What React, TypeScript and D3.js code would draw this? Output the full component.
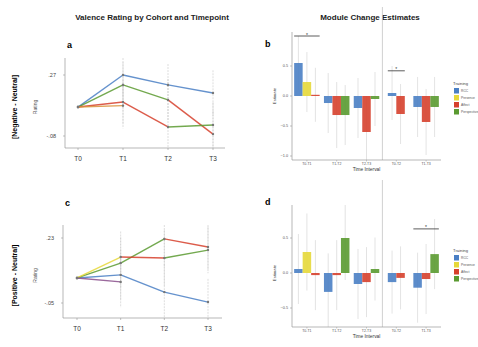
import React from "react";
import * as d3 from "d3";

// ---------- DATA ----------
const timepoints = ["T0", "T1", "T2", "T3"];

// Negative - Neutral (panel a)
const negValues = [
  [0.086, 0.27, 0.213, 0.167],
  [0.086, 0.213, 0.127, -0.069],
  [0.086, 0.115, -0.028, -0.017],
  [0.086, 0.094],
];
const negSegColors = [
  ["Blue", "Blue", "Blue"],
  ["Green", "Green", "Red"],
  ["Red", "Red", "Green"],
  ["Orange"],
];
const negErr = [0, 0.13, 0.12, 0.13];
const negTicks = [0.27, -0.08];
const negTickLabels = [".27", "-.08"];

// Positive - Neutral (panel c)
const posValues = [
  [0.058, 0.071, -0.003, -0.046],
  [0.058, 0.122, 0.226, 0.191],
  [0.058, 0.148, 0.144, 0.178],
  [0.058, 0.041],
];
const posSegColors = [
  ["Blue", "Blue", "Blue"],
  ["Green", "Green", "Red"],
  ["Yellow", "Red", "Green"],
  ["Purple"],
];
const posErr = [0, 0.11, 0.12, 0.1];
const posTicks = [0.23, -0.05];
const posTickLabels = [".23", "-.05"];

// Bar panels
const intervals = ["T0-T1", "T1-T2", "T2-T3", "T0-T2", "T1-T3"];
const trainings = ["RCC", "Presence", "Affect", "Perspective"];
const intervalTrainings = [
  ["RCC", "Presence", "Affect"],
  ["RCC", "Affect", "Perspective"],
  ["RCC", "Affect", "Perspective"],
  ["RCC", "Affect"],
  ["RCC", "Affect", "Perspective"],
];
const negEstimates = [
  [0.55, 0.233, 0.02],
  [-0.117, -0.317, -0.317],
  [-0.2, -0.6, -0.05],
  [0.05, -0.3],
  [-0.183, -0.433, -0.183],
];
const negEstErr = [
  [0.45, 0.5, 0.45],
  [0.5, 0.55, 0.5],
  [0.5, 0.6, 0.45],
  [0.45, 0.5],
  [0.5, 0.55, 0.5],
];
const posEstimates = [
  [0.057, 0.3, -0.03],
  [-0.27, -0.03, 0.5],
  [-0.157, -0.13, 0.057],
  [-0.13, -0.07],
  [-0.21, -0.086, 0.27],
];
const posEstErr = [
  [0.5, 0.55, 0.5],
  [0.55, 0.5, 0.6],
  [0.5, 0.5, 0.45],
  [0.45, 0.45],
  [0.5, 0.5, 0.5],
];
const negBarTicks = [0.5, 0, -0.5, -1.0];
const posBarTicks = [0.5, 0, -0.5];
// significance brackets: [interval index, value]
const negSigs = [[0, 1.0], [3, 0.42]];
const posSigs = [[4, 0.63]];

const colorMap: Record<string, string> = {
  Blue: "#4a7fc4",
  Yellow: "#e6d83a",
  Red: "#d6402c",
  Green: "#5a9a30",
  Orange: "#d9903a",
  Purple: "#8a4f8c",
};
const trainingColor: Record<string, string> = {
  RCC: "#4a7fc4",
  Presence: "#e6d83a",
  Affect: "#d6402c",
  Perspective: "#5a9a30",
};

const FONT = "'Liberation Sans', Arial, sans-serif";

type LineProps = {
  values: number[][];
  segColors: string[][];
  err: number[];
  ticks: number[];
  tickLabels: string[];
  domain: [number, number];
  yTop: number;
  yBot: number;
  xLeft: number;
  xRight: number;
  xFirst: number;
  xLast: number;
  letter: string;
  leftTitle: string;
  letterY: number;
};

function LinePanel(p: LineProps) {
  const x = d3.scalePoint<string>().domain(timepoints).range([p.xFirst, p.xLast]);
  const y = d3.scaleLinear().domain(p.domain).range([p.yBot, p.yTop]);
  const midY = (p.yTop + p.yBot) / 2 + 4;
  const segs: JSX.Element[] = [];
  p.values.forEach((vals, ci) => {
    for (let i = 0; i < vals.length - 1; i++) {
      segs.push(
        <line
          key={`s${ci}-${i}`}
          x1={x(timepoints[i])}
          x2={x(timepoints[i + 1])}
          y1={y(vals[i])}
          y2={y(vals[i + 1])}
          stroke={colorMap[p.segColors[ci][i]]}
          strokeWidth={1.4}
          strokeOpacity={0.85}
        />
      );
    }
  });
  const errs: JSX.Element[] = [];
  p.values.forEach((vals, ci) => {
    vals.forEach((v, i) => {
      if (p.err[i] > 0) {
        errs.push(
          <line
            key={`e${ci}-${i}`}
            x1={x(timepoints[i])}
            x2={x(timepoints[i])}
            y1={Math.max(p.yTop, y(v + p.err[i]))}
            y2={Math.min(p.yBot, y(v - p.err[i]))}
            stroke="#c8c8c8"
            strokeWidth={0.6}
            strokeDasharray="2,1"
          />
        );
      }
    });
  });
  const pts: JSX.Element[] = [];
  p.values.forEach((vals, ci) => {
    vals.forEach((v, i) => {
      pts.push(
        <circle key={`p${ci}-${i}`} cx={x(timepoints[i])} cy={y(v)} r={1.2} fill="#777" />
      );
    });
  });
  return (
    <g>
      <text x={p.xLeft + 2} y={p.letterY} fontSize={9} fontWeight="bold" fontFamily={FONT}>
        {p.letter}
      </text>
      <text
        transform={`translate(17,${midY}) rotate(-90)`}
        textAnchor="middle"
        fontSize={7}
        fontWeight="bold"
        fontFamily={FONT}
      >
        {p.leftTitle}
      </text>
      <text
        transform={`translate(37,${midY}) rotate(-90)`}
        textAnchor="middle"
        fontSize={5}
        fill="#555"
        fontFamily={FONT}
      >
        Rating
      </text>
      {errs}
      {segs}
      {pts}
      <line x1={p.xLeft} x2={p.xLeft} y1={p.yTop} y2={p.yBot} stroke="#999" strokeWidth={0.7} />
      <line x1={p.xLeft} x2={p.xRight} y1={p.yBot} y2={p.yBot} stroke="#999" strokeWidth={0.7} />
      {p.ticks.map((t, i) => (
        <g key={`t${i}`}>
          <line x1={p.xLeft - 2} x2={p.xLeft} y1={y(t)} y2={y(t)} stroke="#999" strokeWidth={0.6} />
          <text
            x={p.xLeft - 9}
            y={y(t) + 1.9}
            textAnchor="end"
            fontSize={5.5}
            fill="#444"
            fontFamily={FONT}
          >
            {p.tickLabels[i]}
          </text>
        </g>
      ))}
      {timepoints.map((t) => (
        <g key={t}>
          <line x1={x(t)} x2={x(t)} y1={p.yBot} y2={p.yBot + 2} stroke="#999" strokeWidth={0.6} />
          <text
            x={x(t)}
            y={p.yBot + 13}
            textAnchor="middle"
            fontSize={6.5}
            fill="#333"
            fontFamily={FONT}
          >
            {t}
          </text>
        </g>
      ))}
    </g>
  );
}

type BarProps = {
  est: number[][];
  estErr: number[][];
  ticks: number[];
  domain: [number, number];
  yTop: number;
  yBot: number;
  letter: string;
  letterY: number;
  sigs: number[][];
  legendY: number;
};

function BarPanel(p: BarProps) {
  const xLeft = 292;
  const xRight = 441;
  const x = d3.scaleBand<string>().domain(intervals).range([xLeft, xRight]);
  const y = d3.scaleLinear().domain(p.domain).range([p.yBot, p.yTop]);
  const barW = 8.5;
  const sepX = (x(intervals[2])! + x.bandwidth() + x(intervals[3])!) / 2 + 1;
  const bars: JSX.Element[] = [];
  const errs: JSX.Element[] = [];
  const groupExtent: [number, number][] = [];
  intervals.forEach((iv, gi) => {
    const names = intervalTrainings[gi];
    const inner = d3
      .scaleBand<string>()
      .domain(names)
      .range([
        x(iv)! + x.bandwidth() / 2 - (barW * names.length) / 2,
        x(iv)! + x.bandwidth() / 2 + (barW * names.length) / 2,
      ]);
    groupExtent.push([inner.range()[0], inner.range()[1]]);
    names.forEach((n, bi) => {
      const v = p.est[gi][bi];
      const e = p.estErr[gi][bi];
      const bx = inner(n)!;
      errs.push(
        <line
          key={`e${gi}-${bi}`}
          x1={bx + barW / 2}
          x2={bx + barW / 2}
          y1={Math.max(p.yTop, y(v + e))}
          y2={Math.min(p.yBot, y(v - e))}
          stroke="#d0d0d0"
          strokeWidth={0.6}
        />
      );
      bars.push(
        <rect
          key={`b${gi}-${bi}`}
          x={bx}
          width={barW}
          y={Math.min(y(0), y(v))}
          height={Math.max(1.2, Math.abs(y(v) - y(0)))}
          fill={trainingColor[n]}
          fillOpacity={0.9}
        />
      );
    });
  });
  return (
    <g>
      <text x={265} y={p.letterY} fontSize={9} fontWeight="bold" fontFamily={FONT}>
        {p.letter}
      </text>
      <line x1={sepX} x2={sepX} y1={p.yTop - 25} y2={p.yBot} stroke="#bbb" strokeWidth={0.7} />
      {errs}
      {bars}
      {p.sigs.map(([gi, v], i) => {
        const [a, b] = groupExtent[gi];
        return (
          <g key={`sig${i}`}>
            <line x1={a} x2={b} y1={y(v)} y2={y(v)} stroke="#333" strokeWidth={0.8} />
            <text
              x={(a + b) / 2}
              y={y(v) + 0.5}
              textAnchor="middle"
              fontSize={5}
              fill="#333"
              fontFamily={FONT}
            >
              *
            </text>
          </g>
        );
      })}
      <line x1={xLeft} x2={xLeft} y1={p.yTop} y2={p.yBot} stroke="#999" strokeWidth={0.7} />
      <line x1={xLeft} x2={xRight} y1={p.yBot} y2={p.yBot} stroke="#999" strokeWidth={0.7} />
      {p.ticks.map((t) => (
        <g key={`t${t}`}>
          <line x1={xLeft - 2} x2={xLeft} y1={y(t)} y2={y(t)} stroke="#999" strokeWidth={0.6} />
          <text
            x={xLeft - 4}
            y={y(t) + 1.3}
            textAnchor="end"
            fontSize={3.8}
            fill="#555"
            fontFamily={FONT}
          >
            {t === 0 ? "0.0" : d3.format(".1f")(t)}
          </text>
        </g>
      ))}
      <text
        transform={`translate(276,${y(0)}) rotate(-90)`}
        textAnchor="middle"
        fontSize={4.2}
        fill="#444"
        fontFamily={FONT}
      >
        Estimate
      </text>
      {intervals.map((iv) => (
        <g key={iv}>
          <line
            x1={x(iv)! + x.bandwidth() / 2}
            x2={x(iv)! + x.bandwidth() / 2}
            y1={p.yBot}
            y2={p.yBot + 1.5}
            stroke="#999"
            strokeWidth={0.5}
          />
          <text
            x={x(iv)! + x.bandwidth() / 2}
            y={p.yBot + 5}
            textAnchor="middle"
            fontSize={3.5}
            fill="#555"
            fontFamily={FONT}
          >
            {iv}
          </text>
        </g>
      ))}
      <text
        x={(xLeft + xRight) / 2}
        y={p.yBot + 11}
        textAnchor="middle"
        fontSize={4.8}
        fill="#333"
        fontFamily={FONT}
      >
        Time Interval
      </text>
      <text x={453} y={p.legendY} fontSize={4.2} fill="#444" fontFamily={FONT}>
        Training
      </text>
      {trainings.map((t, i) => (
        <g key={t}>
          <rect
            x={454}
            y={p.legendY + 3 + i * 7}
            width={5}
            height={5.5}
            fill={trainingColor[t]}
          />
          <text
            x={461}
            y={p.legendY + 7.3 + i * 7}
            fontSize={3.3}
            fill="#555"
            fontFamily={FONT}
          >
            {t}
          </text>
        </g>
      ))}
    </g>
  );
}

export default function App() {
  // panel a scale: .27 at y=75, -.08 at y=136
  const aPx = 0.35 / 61;
  const aDomain: [number, number] = [-0.08 - 12 * aPx, 0.27 + 17 * aPx];
  const cPx = 0.28 / 65;
  const cDomain: [number, number] = [-0.05 - 15 * cPx, 0.23 + 13 * cPx];
  return (
    <svg
      width={478}
      height={347}
      style={{ position: "absolute", left: 0, top: 0, background: "#fff" }}
    >
      <text
        x={152}
        y={20}
        textAnchor="middle"
        fontSize={8}
        fontWeight="bold"
        fontFamily={FONT}
        fill="#222"
      >
        Valence Rating by Cohort and Timepoint
      </text>
      <text
        x={370}
        y={20}
        textAnchor="middle"
        fontSize={8}
        fontWeight="bold"
        fontFamily={FONT}
        fill="#222"
      >
        Module Change Estimates
      </text>
      <LinePanel
        values={negValues}
        segColors={negSegColors}
        err={negErr}
        ticks={negTicks}
        tickLabels={negTickLabels}
        domain={aDomain}
        yTop={58}
        yBot={148}
        xLeft={65}
        xRight={225}
        xFirst={78}
        xLast={213}
        letter="a"
        leftTitle="[Negative - Neutral]"
        letterY={48}
      />
      <LinePanel
        values={posValues}
        segColors={posSegColors}
        err={posErr}
        ticks={posTicks}
        tickLabels={posTickLabels}
        domain={cDomain}
        yTop={225}
        yBot={318}
        xLeft={63}
        xRight={222}
        xFirst={77}
        xLast={208}
        letter="c"
        leftTitle="[Positive - Neutral]"
        letterY={206}
      />
      <BarPanel
        est={negEstimates}
        estErr={negEstErr}
        ticks={negBarTicks}
        domain={[-64 / 60, 64 / 60]}
        yTop={32}
        yBot={160}
        letter="b"
        letterY={47}
        sigs={negSigs}
        legendY={85}
      />
      <BarPanel
        est={posEstimates}
        estErr={posEstErr}
        ticks={posBarTicks}
        domain={[-(327 - 273) / 70, (273 - 205) / 70]}
        yTop={205}
        yBot={327}
        letter="d"
        letterY={205}
        sigs={posSigs}
        legendY={252}
      />
    </svg>
  );
}
